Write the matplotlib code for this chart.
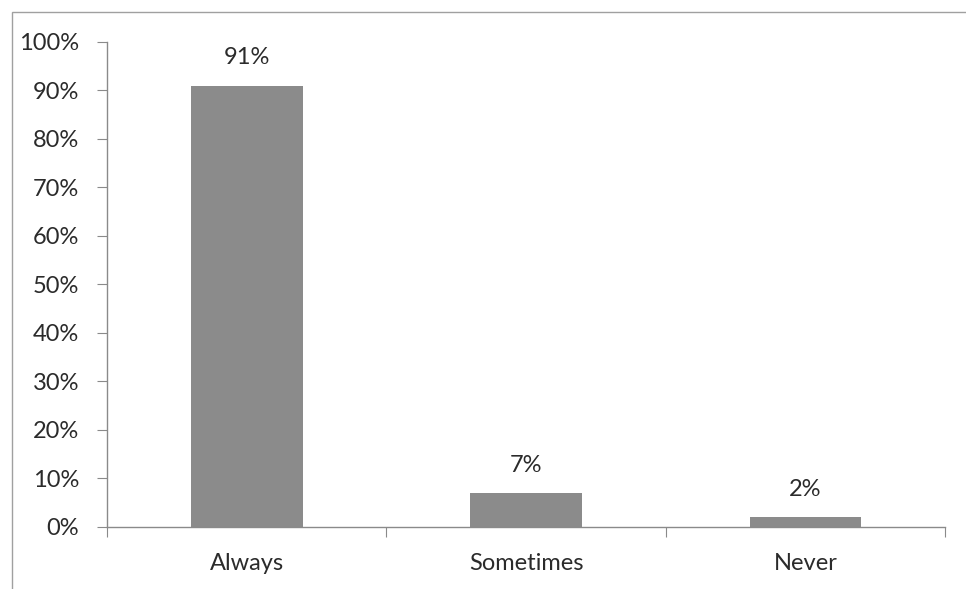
import matplotlib.pyplot as plt
from matplotlib.patches import Rectangle
from matplotlib.ticker import PercentFormatter

# Chart data
categories = ["Always", "Sometimes", "Never"]
values = [0.91, 0.07, 0.02]
labels = ["91%", "7%", "2%"]

plt.rcParams['font.family'] = ['Lato', 'DejaVu Sans']

fig = plt.figure(figsize=(9.66, 5.89), dpi=100)
ax = fig.add_axes([0.1108, 0.1053, 0.8675, 0.8234])

x = range(len(categories))
bars = ax.bar(x, values, width=0.4, color="#8b8b8b", zorder=2)

# Value labels above bars
for b, lab in zip(bars, labels):
    ax.annotate(lab, (b.get_x() + b.get_width() / 2, b.get_height()),
                xytext=(0, 20), textcoords="offset points",
                ha="center", va="center", fontsize=17, color="#2b2b2b")

ax.set_xlim(-0.5, len(categories) - 0.5)
ax.set_ylim(0, 1)
ax.set_yticks([i / 10 for i in range(11)])
ax.yaxis.set_major_formatter(PercentFormatter(1.0, decimals=0))

# boundaries as ticks, category names centred between them
ax.set_xticks([i - 0.5 for i in range(len(categories) + 1)])
ax.set_xticklabels([])
ax.set_xticks(list(x), minor=True)
ax.set_xticklabels(categories, minor=True)
ax.tick_params(axis="x", which="minor", length=0, pad=19, labelsize=17, labelcolor="#2b2b2b")
ax.tick_params(axis="x", which="major", length=7, color="#8a8a8a")
ax.tick_params(axis="y", length=7, color="#8a8a8a", labelsize=17, labelcolor="#2b2b2b", pad=13)

for side in ["top", "right"]:
    ax.spines[side].set_visible(False)
for side in ["left", "bottom"]:
    ax.spines[side].set_color("#8a8a8a")
    ax.spines[side].set_linewidth(1.0)

# outer chart border (cropped by the scan)
fig.patches.append(Rectangle((0.0125, -0.2), 1.1, 1.18, transform=fig.transFigure,
                             fill=False, edgecolor="#a0a0a0", linewidth=1.0))

fig.savefig("out.png", dpi=100)
